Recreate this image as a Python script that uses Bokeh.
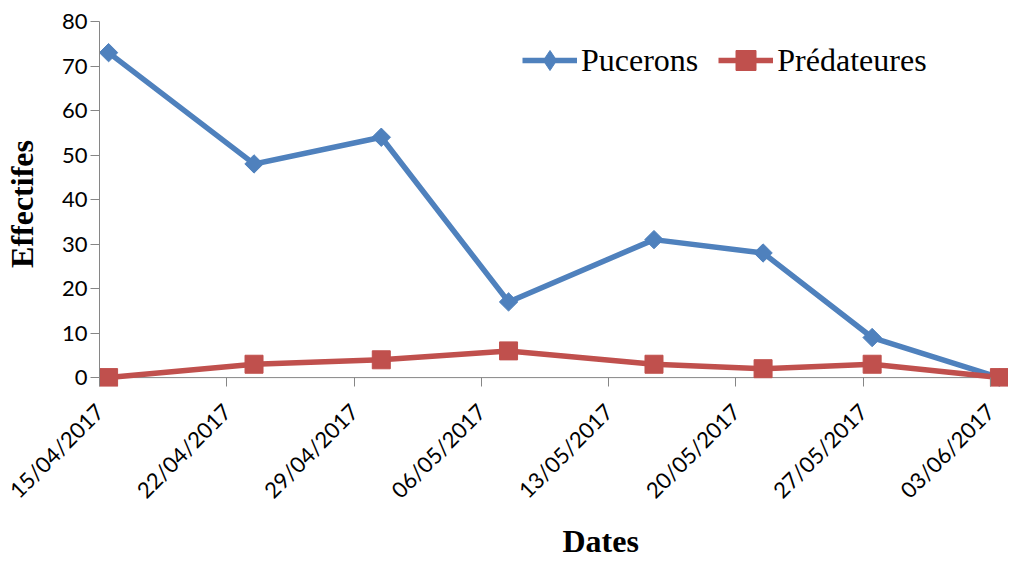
from datetime import datetime
import numpy as np
from bokeh.plotting import figure
from bokeh.models import (Range1d, FixedTicker, Legend, LegendItem, Title, Span)
from bokeh.embed import file_html
from bokeh.resources import INLINE

# ---- data ----
sample_dates = ["15/04/2017", "23/04/2017", "30/04/2017", "07/05/2017",
                "15/05/2017", "21/05/2017", "27/05/2017", "03/06/2017"]
pucerons = [73, 48, 54, 17, 31, 28, 9, 0]
predateures = [0, 3, 4, 6, 3, 2, 3, 0]
x_tick_labels = ["15/04/2017", "22/04/2017", "29/04/2017", "06/05/2017",
                 "13/05/2017", "20/05/2017", "27/05/2017", "03/06/2017"]
y_ticks = [0, 10, 20, 30, 40, 50, 60, 70, 80]
series_names = ["Pucerons", "Prédateures"]

BLUE = "#4F81BD"
RED = "#C0504D"
GRAY = "#868686"


def parse(s):
    return datetime.strptime(s, "%d/%m/%Y")


start = parse(x_tick_labels[0])
# date axis in days since the first tick; points sit mid-day (between tick marks)
x = [(parse(d) - start).days + 0.5 for d in sample_dates]
tick_days = [(parse(t) - start).days for t in x_tick_labels]

p = figure(width=1008, height=566,
           output_backend="svg", toolbar_location=None,
           x_range=Range1d(0, tick_days[-1] + 1),
           y_range=Range1d(-2, y_ticks[-1]),
           min_border_left=92, min_border_right=0,
           min_border_top=21, min_border_bottom=180)
p.outline_line_color = None
p.grid.visible = False
p.background_fill_color = "white"

# x axis line at y = 0
p.add_layout(Span(location=0, dimension="width", line_color=GRAY,
                  line_width=1, level="underlay"))

# x axis (ticks drawn from the frame bottom up to the zero line)
xa = p.xaxis[0]
xa.ticker = FixedTicker(ticks=tick_days)
xa.major_label_overrides = {d: lab for d, lab in zip(tick_days, x_tick_labels)}
xa.major_label_orientation = np.pi / 4
xa.major_label_text_font = "Lato"
xa.major_label_text_font_size = "22px"
xa.major_label_text_color = "black"
xa.major_label_standoff = 21
xa.axis_line_color = None
xa.major_tick_line_color = GRAY
xa.major_tick_in = 9
xa.major_tick_out = 0
xa.minor_tick_line_color = None

# y axis
ya = p.yaxis[0]
ya.bounds = (y_ticks[0], y_ticks[-1])
ya.ticker = FixedTicker(ticks=y_ticks)
ya.major_label_text_font = "Lato"
ya.major_label_text_font_size = "22px"
ya.major_label_text_color = "black"
ya.major_label_standoff = 3
ya.axis_line_color = GRAY
ya.major_tick_line_color = GRAY
ya.major_tick_in = 0
ya.major_tick_out = 9
ya.minor_tick_line_color = None
ya.axis_label = "Effectifes"
ya.axis_label_text_font = "Liberation Serif"
ya.axis_label_text_font_size = "32px"
ya.axis_label_text_font_style = "bold"
ya.axis_label_text_color = "black"
ya.axis_label_standoff = 19

# x-axis title
p.add_layout(Title(text="Dates", align="left", offset=463, standoff=11,
                   text_font="Liberation Serif", text_font_size="32px",
                   text_font_style="bold", text_color="black"), "below")

# series
l1 = p.line(x, pucerons, line_color=BLUE, line_width=5.5)
s1 = p.scatter(x, pucerons, marker="square", angle=np.pi / 4, size=13,
               fill_color=BLUE, line_color=BLUE)
l2 = p.line(x, predateures, line_color=RED, line_width=5.5)
s2 = p.scatter(x, predateures, marker="square", size=18,
               fill_color=RED, line_color=RED)
# legend-only diamond marker (its single point is NaN, so nothing is plotted)
d1 = p.scatter([np.nan], [np.nan], marker="diamond",
               fill_color=BLUE, line_color=BLUE)

legend = Legend(items=[LegendItem(label=series_names[0], renderers=[l1, d1]),
                       LegendItem(label=series_names[1], renderers=[l2, s2])],
                location=(423, 301), orientation="horizontal",
                label_text_font="Liberation Serif", label_text_font_size="32px",
                label_text_color="black",
                glyph_width=55, glyph_height=50, label_standoff=4,
                spacing=20, padding=0, margin=0,
                border_line_alpha=0, background_fill_alpha=0)
p.add_layout(legend)

open("out.html", "w").write(file_html(p, INLINE))
